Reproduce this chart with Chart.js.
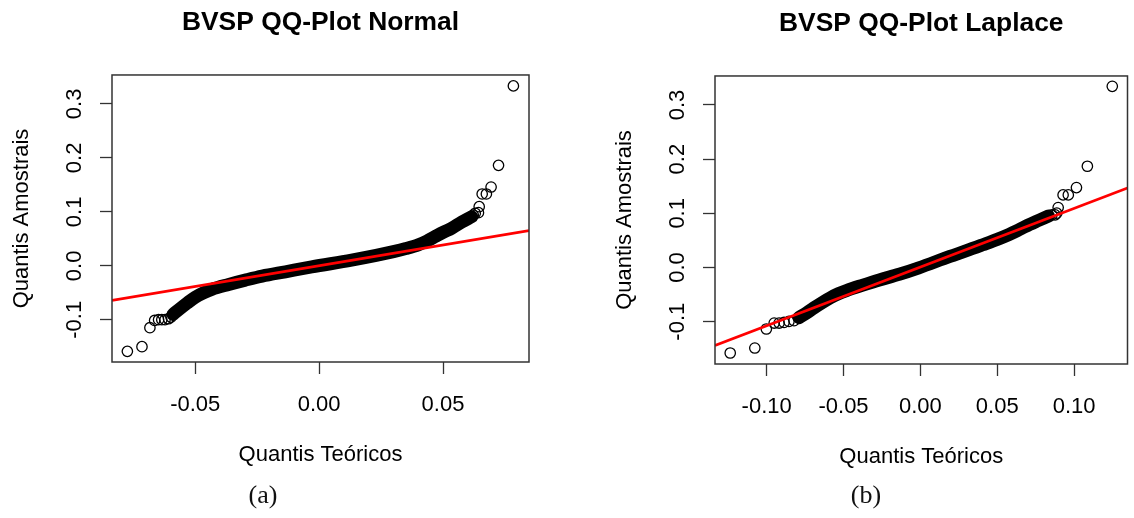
<!DOCTYPE html>
<html>
<head>
<meta charset="utf-8">
<script src="https://cdn.jsdelivr.net/npm/chart.js@4.4.0/dist/chart.umd.min.js"></script>
<style>
  html, body { margin: 0; padding: 0; background: #fff; }
  body { width: 1134px; height: 518px; position: relative; overflow: hidden; }
  .panel { position: absolute; top: 0; width: 567px; height: 518px; }
  .cap { position: absolute; top: 480px; transform: translateX(-50%);
         font-family: "Liberation Serif", "DejaVu Serif", serif; font-size: 26px; color: #111; }
</style>
</head>
<body>
<div class="panel" style="left:0"><canvas id="qqNormal"></canvas></div>
<div class="panel" style="left:567px"><canvas id="qqLaplace"></canvas></div>
<div class="cap" style="left:263px">(a)</div>
<div class="cap" style="left:866px">(b)</div>

<script>
// tick labels
const yTicks = [-0.1, 0.0, 0.1, 0.2, 0.3];
const normXTicks = [-0.05, 0.00, 0.05];
const lapXTicks = [-0.10, -0.05, 0.00, 0.05, 0.10];

// axis ranges (R pads the data range by 4%)
const yLim = [-0.1781, 0.3535];
const normXLim = [-0.0836, 0.0847];
const lapXLim = [-0.1336, 0.1347];

// Normal QQ: sparse tail points (open circles)
const normTailX = [-0.0774, -0.0715, -0.0683, -0.0664, -0.0648, -0.0635, -0.0622, -0.0608, -0.0598,
                   0.0622, 0.0630, 0.0643, 0.0646, 0.0658, 0.0675, 0.0694, 0.0724, 0.0784];
const normTailY = [-0.1584, -0.1497, -0.1146, -0.1011, -0.0998, -0.0998, -0.0998, -0.0980, -0.0950,
                   0.0940, 0.0974, 0.0985, 0.1096, 0.1331, 0.1331, 0.1460, 0.1861, 0.3333];
// Normal QQ: dense middle, where the circles merge into a solid band
const normBandX = [-0.0590, -0.0567, -0.0533, -0.0500, -0.0467, -0.0433, -0.0365, -0.0298, -0.0230, -0.0136,
                   -0.0030, 0.0131, 0.0230, 0.0300, 0.0350, 0.0400, 0.0435, 0.0468, 0.0500, 0.0535, 0.0575, 0.0616];
const normBandY = [-0.0900, -0.0813, -0.0690, -0.0580, -0.0500, -0.0435, -0.0345, -0.0265, -0.0190, -0.0110,
                   -0.0020, 0.0105, 0.0192, 0.0262, 0.0320, 0.0390, 0.0460, 0.0542, 0.0620, 0.0697, 0.0808, 0.0911];
const normLine = [0.0002, 0.7687]; // intercept, slope

// Laplace QQ
const lapTailX = [-0.1237, -0.1077, -0.1002, -0.0951, -0.0919, -0.0887, -0.0855, -0.0822,
                  0.0855, 0.0876, 0.0887, 0.0896, 0.0928, 0.0962, 0.1015, 0.1086, 0.1248];
const lapTailY = [-0.1578, -0.1486, -0.1135, -0.1025, -0.1025, -0.1014, -0.0995, -0.0982,
                  0.0971, 0.0971, 0.1003, 0.1106, 0.1340, 0.1340, 0.1475, 0.1869, 0.3344];
const lapBandX = [-0.0790, -0.0736, -0.0694, -0.0640, -0.0587, -0.0534, -0.0481, -0.0374, -0.0267, -0.0138,
                  -0.0010, 0.0192, 0.0300, 0.0406, 0.0500, 0.0577, 0.0630, 0.0684, 0.0769, 0.0833];
const lapBandY = [-0.0925, -0.0830, -0.0748, -0.0650, -0.0560, -0.0485, -0.0425, -0.0325, -0.0230, -0.0125,
                  -0.0005, 0.0205, 0.0310, 0.0420, 0.0520, 0.0610, 0.0680, 0.0760, 0.0870, 0.0950];
const lapLine = [0.0008, 1.0833];

const FONT = '"Liberation Sans", Arial, Helvetica, sans-serif';

// plot box like R's box()
const boxPlugin = {
  id: 'box',
  afterDraw(chart) {
    const { ctx, chartArea: a } = chart;
    ctx.save();
    ctx.strokeStyle = '#333';
    ctx.lineWidth = 1.5;
    ctx.strokeRect(a.left, a.top, a.right - a.left, a.bottom - a.top);
    ctx.restore();
  }
};

const pts = (xs, ys) => xs.map((x, i) => ({ x: x, y: ys[i] }));

function makeChart(id, title, xLim, xTicks, tailX, tailY, bandX, bandY, line, padding) {
  const gridOpts = { drawOnChartArea: false, drawTicks: true, tickLength: 12, tickWidth: 1.3, tickColor: '#333' };
  return new Chart(document.getElementById(id), {
    type: 'scatter',
    data: {
      datasets: [
        {
          data: [{ x: xLim[0], y: line[0] + line[1] * xLim[0] }, { x: xLim[1], y: line[0] + line[1] * xLim[1] }],
          showLine: true, borderColor: '#ff0000', borderWidth: 2.6, pointRadius: 0, order: 0
        },
        {
          data: pts(bandX, bandY),
          showLine: true, borderColor: '#000', borderWidth: 13, pointRadius: 0,
          cubicInterpolationMode: 'monotone', borderCapStyle: 'round', borderJoinStyle: 'round', order: 1
        },
        {
          data: pts(tailX, tailY),
          pointRadius: 5.2, pointBorderWidth: 1.3, borderColor: '#000',
          backgroundColor: 'rgba(0,0,0,0)', order: 2
        }
      ]
    },
    options: {
      responsive: true,
      maintainAspectRatio: false,
      animation: false,
      events: [],
      layout: { padding: padding },
      plugins: {
        legend: { display: false },
        tooltip: { enabled: false },
        title: {
          display: true, text: title, fullSize: false, color: '#000',
          font: { family: FONT, size: 26.4, weight: 'bold' },
          padding: { top: 7, bottom: 36.3 }
        }
      },
      scales: {
        x: {
          type: 'linear', min: xLim[0], max: xLim[1],
          afterBuildTicks: s => { s.ticks = xTicks.map(v => ({ value: v })); },
          afterFit: s => { s.height = 106.2; },
          grid: gridOpts,
          border: { display: false },
          ticks: { color: '#000', font: { family: FONT, size: 22 }, padding: 18, maxRotation: 0, autoSkip: false,
                   callback: v => v.toFixed(2) },
          title: { display: true, text: 'Quantis Teóricos', color: '#000',
                   font: { family: FONT, size: 22 }, padding: { top: 0, bottom: 0 } }
        },
        y: {
          type: 'linear', min: yLim[0], max: yLim[1],
          afterBuildTicks: s => { s.ticks = yTicks.map(v => ({ value: v })); },
          afterFit: s => { s.width = 112; },
          grid: gridOpts,
          border: { display: false },
          ticks: { color: '#000', font: { family: FONT, size: 22 }, padding: 6, minRotation: 90, maxRotation: 90,
                   crossAlign: 'center', autoSkip: false, callback: v => v.toFixed(1) },
          title: { display: true, text: 'Quantis Amostrais', color: '#000',
                   font: { family: FONT, size: 22 }, padding: { top: 8.8, bottom: 0 } }
        }
      }
    },
    plugins: [boxPlugin]
  });
}

makeChart('qqNormal', 'BVSP QQ-Plot Normal', normXLim, normXTicks,
          normTailX, normTailY, normBandX, normBandY, normLine,
          { left: 0, right: 38, top: 0, bottom: 49.8 });
makeChart('qqLaplace', 'BVSP QQ-Plot Laplace', lapXLim, lapXTicks,
          lapTailX, lapTailY, lapBandX, lapBandY, lapLine,
          { left: 36, right: 1, top: 1, bottom: 47.8 });
</script>
</body>
</html>
